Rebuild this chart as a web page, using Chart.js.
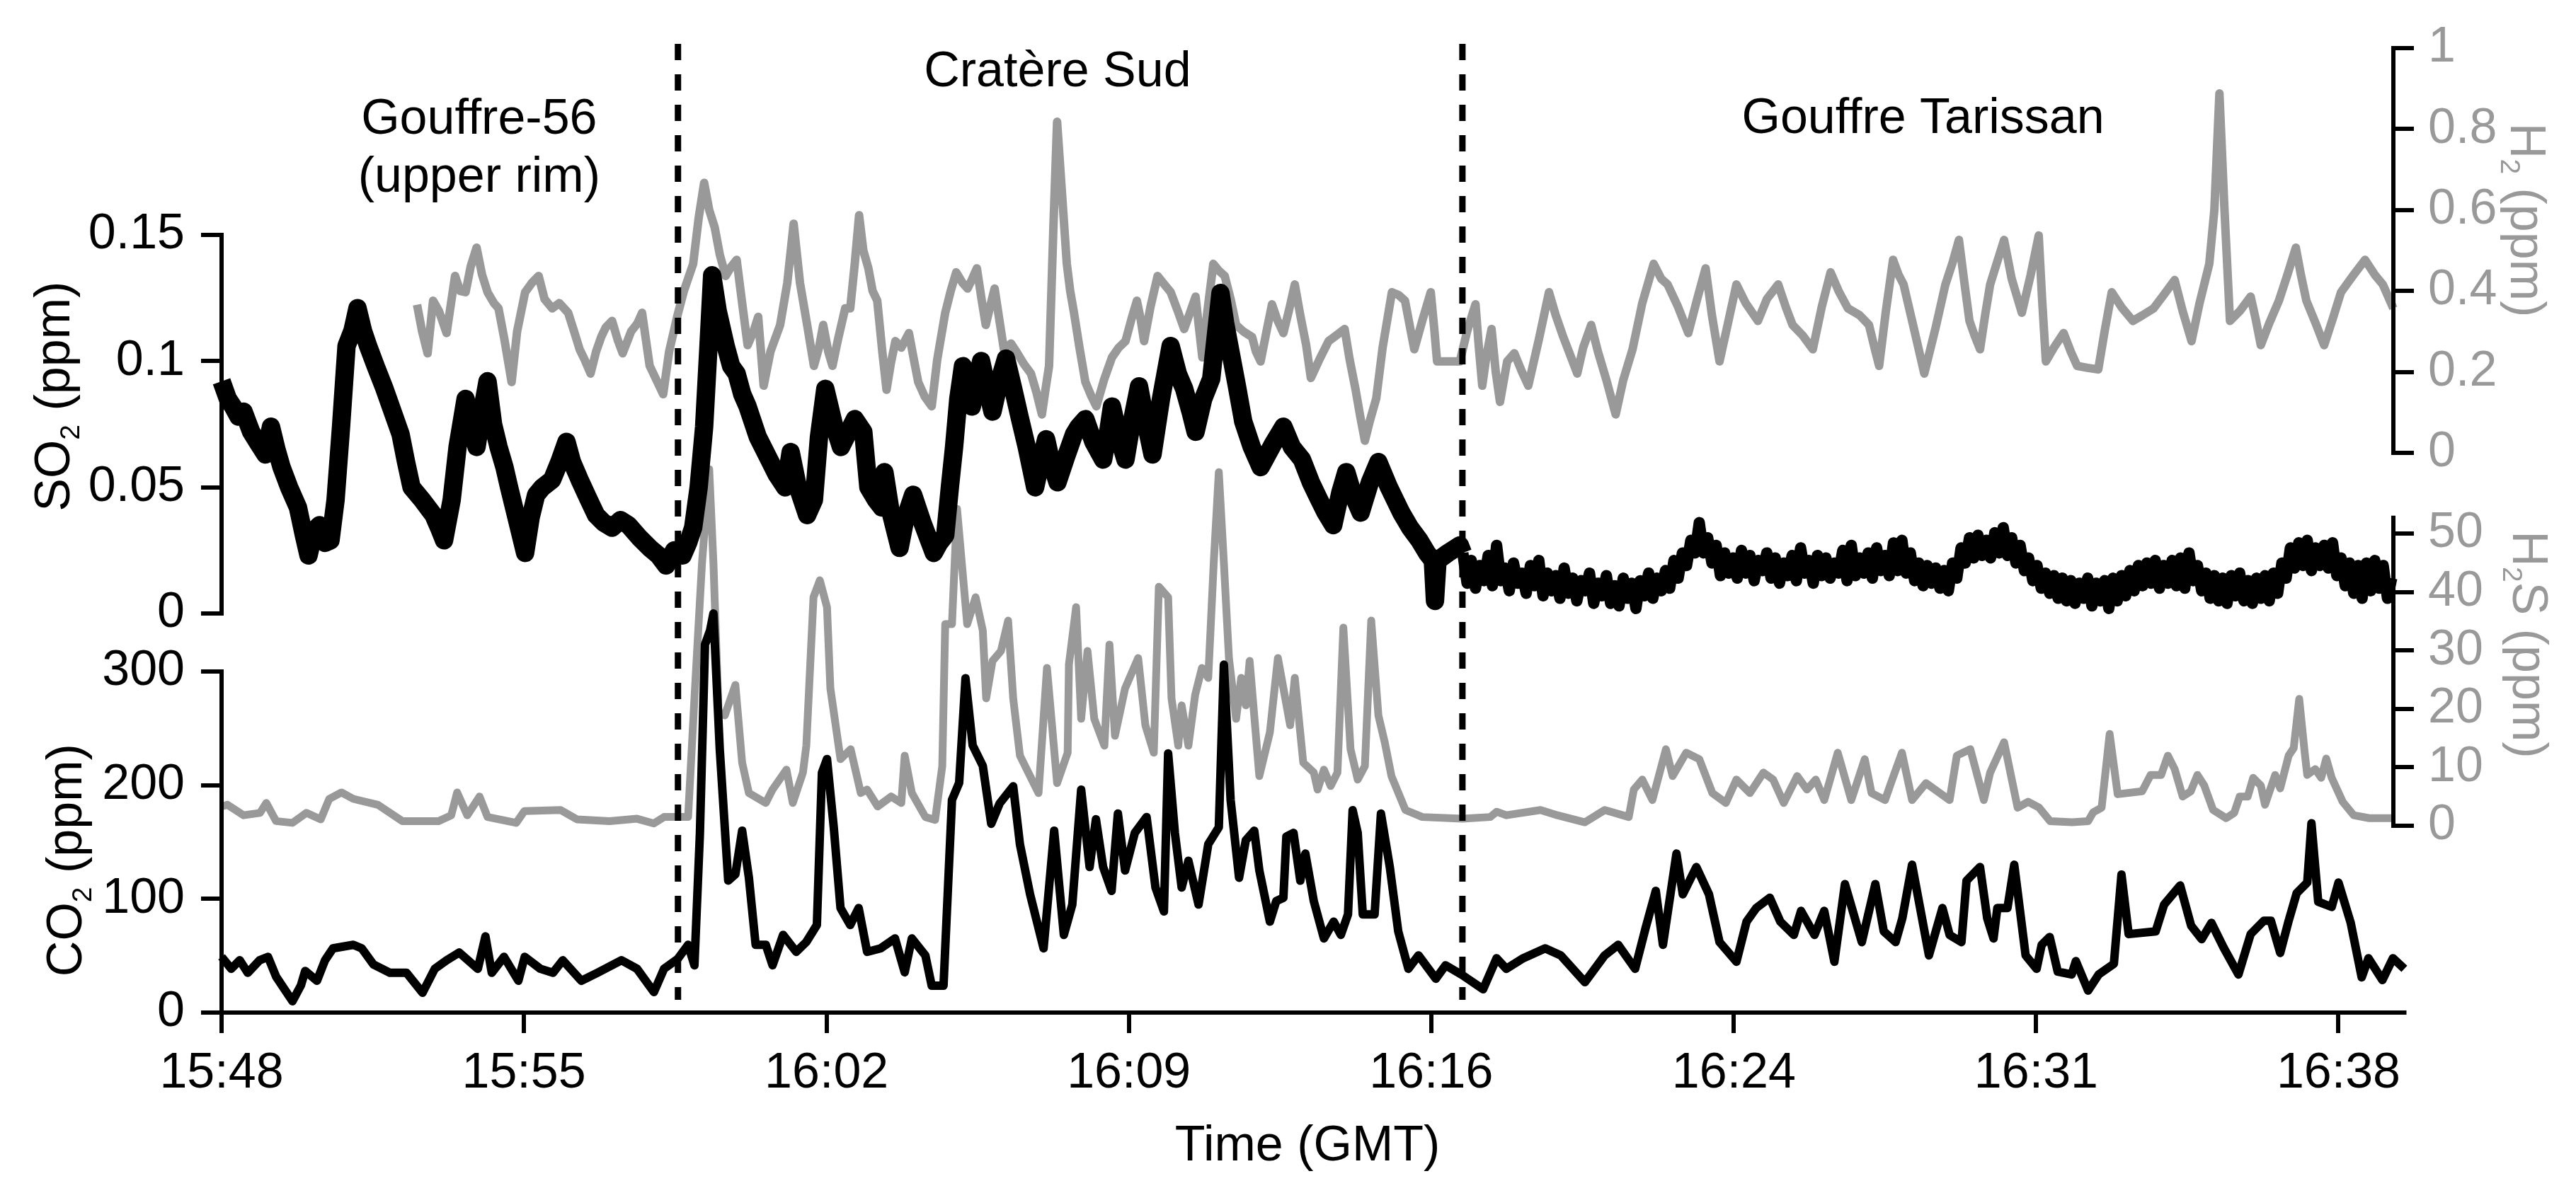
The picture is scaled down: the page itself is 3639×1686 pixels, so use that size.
<!DOCTYPE html>
<html>
<head>
<meta charset="utf-8">
<script src="https://cdn.jsdelivr.net/npm/chart.js@4.4.1/dist/chart.umd.min.js"></script>
<style>
  html, body { margin: 0; padding: 0; background: #fff; }
</style>
</head>
<body>
<canvas id="grafico" width="3639" height="1686"></canvas>
<script>
// Eje de tiempo: minutos desde las 15:48 (GMT)
const etiquetasTiempo = ['15:48', '15:55', '16:02', '16:09', '16:16', '16:24', '16:31', '16:38'];
const minutosTicks = [0, 7.16, 14.33, 21.49, 28.65, 35.82, 42.98, 50.14];

const ticksSO2 = [0, 0.05, 0.1, 0.15];
const ticksCO2 = [0, 100, 200, 300];
const ticksH2 = [0, 0.2, 0.4, 0.6, 0.8, 1];
const ticksH2S = [0, 10, 20, 30, 40, 50];

// Cambios de sitio (líneas discontinuas) y nombres de los sitios
const cambiosDeSitio = [10.81, 29.39];
const sitios = [
    { texto: ['Gouffre-56', '(upper rim)'], minuto: 6.1 },
    { texto: ['Cratère Sud'], minuto: 19.8 },
    { texto: ['Gouffre Tarissan'], minuto: 40.3 }
];

// SO2 (ppm) - negro, arriba
const datosSO2 = [
    [0, 0.092], [0.15, 0.085], [0.27, 0.082], [0.4, 0.078], [0.52, 0.080], [0.7, 0.072], [0.85, 0.068],
    [1.04, 0.063], [1.17, 0.074], [1.3, 0.065], [1.42, 0.058], [1.6, 0.050], [1.81, 0.042], [1.95, 0.031],
    [2.06, 0.023], [2.2, 0.033], [2.32, 0.035], [2.45, 0.028], [2.58, 0.029], [2.7, 0.045], [2.83, 0.074],
    [2.96, 0.106], [3.1, 0.112], [3.22, 0.121], [3.35, 0.112], [3.47, 0.106], [3.65, 0.098], [3.86, 0.089],
    [4.05, 0.080], [4.24, 0.071], [4.37, 0.060], [4.5, 0.050], [4.75, 0.045], [5.02, 0.039], [5.15, 0.034],
    [5.27, 0.029], [5.45, 0.045], [5.59, 0.066], [5.78, 0.085], [5.9, 0.075], [6.04, 0.066], [6.17, 0.080],
    [6.3, 0.092], [6.43, 0.075], [6.56, 0.066], [6.7, 0.058], [6.81, 0.050], [7.0, 0.037], [7.19, 0.024],
    [7.32, 0.038], [7.45, 0.047], [7.6, 0.050], [7.83, 0.053], [8.0, 0.060], [8.17, 0.068], [8.3, 0.060],
    [8.48, 0.053], [8.7, 0.045], [8.87, 0.039], [9.05, 0.036], [9.25, 0.034], [9.45, 0.037], [9.64, 0.035],
    [9.9, 0.030], [10.14, 0.026], [10.35, 0.023], [10.53, 0.019], [10.72, 0.025], [10.92, 0.023], [11.05, 0.028],
    [11.17, 0.034], [11.3, 0.050], [11.43, 0.074], [11.53, 0.105], [11.62, 0.134], [11.75, 0.120], [11.94, 0.106],
    [12.07, 0.098], [12.2, 0.095], [12.33, 0.087], [12.46, 0.082], [12.7, 0.070], [12.97, 0.061], [13.15, 0.055],
    [13.35, 0.050], [13.48, 0.064], [13.65, 0.050], [13.87, 0.039], [14.03, 0.045], [14.15, 0.070], [14.3, 0.089],
    [14.5, 0.075], [14.67, 0.066], [14.85, 0.072], [15.0, 0.077], [15.2, 0.072], [15.32, 0.050], [15.5, 0.045],
    [15.64, 0.042], [15.7, 0.056], [15.85, 0.040], [16.06, 0.026], [16.2, 0.038], [16.38, 0.047], [16.6, 0.036],
    [16.87, 0.024], [17.0, 0.028], [17.14, 0.031], [17.25, 0.050], [17.35, 0.066], [17.45, 0.085], [17.56, 0.098],
    [17.77, 0.082], [17.99, 0.100], [18.12, 0.090], [18.26, 0.080], [18.42, 0.092], [18.58, 0.101], [18.75, 0.089],
    [18.9, 0.078], [19.07, 0.066], [19.17, 0.058], [19.27, 0.050], [19.4, 0.060], [19.53, 0.069], [19.65, 0.060],
    [19.8, 0.052], [20.0, 0.062], [20.19, 0.071], [20.3, 0.074], [20.46, 0.077], [20.65, 0.068], [20.88, 0.061],
    [21.0, 0.072], [21.09, 0.082], [21.25, 0.070], [21.41, 0.061], [21.55, 0.075], [21.73, 0.090], [21.9, 0.075],
    [22.05, 0.063], [22.25, 0.085], [22.48, 0.106], [22.65, 0.095], [22.8, 0.089], [22.95, 0.080], [23.07, 0.072],
    [23.25, 0.085], [23.44, 0.093], [23.55, 0.110], [23.66, 0.127], [23.77, 0.115], [23.87, 0.106], [24.05, 0.090],
    [24.2, 0.076], [24.4, 0.066], [24.61, 0.058], [24.9, 0.067], [25.15, 0.074], [25.35, 0.066], [25.59, 0.061],
    [25.8, 0.052], [26.0, 0.045], [26.15, 0.040], [26.33, 0.035], [26.5, 0.048], [26.64, 0.056], [26.8, 0.047],
    [26.98, 0.040], [27.2, 0.052], [27.4, 0.060], [27.65, 0.050], [27.94, 0.040], [28.15, 0.034], [28.37, 0.029],
    [28.55, 0.024], [28.69, 0.021], [28.74, 0.005], [28.8, 0.021], [29.05, 0.024], [29.33, 0.027],
    [29.4, 0.024], [29.5, 0.012], [29.6, 0.021], [29.7, 0.010], [29.8, 0.019], [29.9, 0.013], [30.0, 0.023],
    [30.1, 0.011], [30.2, 0.027], [30.3, 0.013], [30.4, 0.018], [30.5, 0.009], [30.6, 0.020], [30.7, 0.012],
    [30.8, 0.016], [30.9, 0.008], [31.0, 0.019], [31.1, 0.011], [31.2, 0.021], [31.3, 0.007], [31.4, 0.016],
    [31.5, 0.009], [31.6, 0.015], [31.7, 0.006], [31.8, 0.018], [31.9, 0.008], [32.0, 0.014], [32.1, 0.005],
    [32.2, 0.013], [32.3, 0.009], [32.4, 0.016], [32.5, 0.004], [32.6, 0.012], [32.7, 0.007], [32.8, 0.015],
    [32.9, 0.004], [33.0, 0.011], [33.1, 0.003], [33.2, 0.014], [33.3, 0.006], [33.4, 0.012], [33.5, 0.002],
    [33.6, 0.013], [33.7, 0.007], [33.8, 0.016], [33.9, 0.006], [34.0, 0.014], [34.1, 0.009], [34.2, 0.017],
    [34.3, 0.010], [34.4, 0.021], [34.5, 0.014], [34.6, 0.024], [34.7, 0.019], [34.8, 0.029], [34.9, 0.024],
    [35.0, 0.036], [35.1, 0.024], [35.2, 0.030], [35.3, 0.020], [35.4, 0.027], [35.5, 0.015], [35.6, 0.024],
    [35.7, 0.016], [35.8, 0.022], [35.9, 0.014], [36.0, 0.025], [36.1, 0.016], [36.2, 0.023], [36.3, 0.013],
    [36.4, 0.021], [36.5, 0.017], [36.6, 0.024], [36.7, 0.014], [36.8, 0.022], [36.9, 0.012], [37.0, 0.020],
    [37.1, 0.015], [37.2, 0.023], [37.3, 0.013], [37.4, 0.026], [37.5, 0.016], [37.6, 0.021], [37.7, 0.012],
    [37.8, 0.023], [37.9, 0.015], [38.0, 0.022], [38.1, 0.014], [38.2, 0.020], [38.3, 0.016], [38.4, 0.025],
    [38.5, 0.013], [38.6, 0.027], [38.7, 0.015], [38.8, 0.022], [38.9, 0.016], [39.0, 0.024], [39.1, 0.014],
    [39.2, 0.026], [39.3, 0.017], [39.4, 0.023], [39.5, 0.015], [39.6, 0.028], [39.7, 0.017], [39.8, 0.029],
    [39.9, 0.016], [40.0, 0.024], [40.1, 0.013], [40.2, 0.020], [40.3, 0.011], [40.4, 0.019], [40.5, 0.012],
    [40.6, 0.018], [40.7, 0.010], [40.8, 0.017], [40.9, 0.009], [41.0, 0.020], [41.1, 0.014], [41.2, 0.026],
    [41.3, 0.020], [41.4, 0.030], [41.5, 0.022], [41.6, 0.031], [41.7, 0.023], [41.8, 0.029], [41.9, 0.022],
    [42.0, 0.032], [42.1, 0.024], [42.2, 0.034], [42.3, 0.023], [42.4, 0.030], [42.5, 0.020], [42.6, 0.027],
    [42.7, 0.017], [42.8, 0.022], [42.9, 0.013], [43.0, 0.019], [43.1, 0.010], [43.2, 0.016], [43.3, 0.008],
    [43.4, 0.015], [43.5, 0.006], [43.6, 0.014], [43.7, 0.005], [43.8, 0.013], [43.9, 0.004], [44.0, 0.012],
    [44.1, 0.006], [44.2, 0.014], [44.3, 0.003], [44.4, 0.012], [44.5, 0.005], [44.6, 0.013], [44.7, 0.002],
    [44.8, 0.014], [44.9, 0.005], [45.0, 0.015], [45.1, 0.007], [45.2, 0.017], [45.3, 0.009], [45.4, 0.019],
    [45.5, 0.011], [45.6, 0.020], [45.7, 0.012], [45.8, 0.021], [45.9, 0.010], [46.0, 0.019], [46.1, 0.012],
    [46.2, 0.021], [46.3, 0.011], [46.4, 0.022], [46.5, 0.010], [46.6, 0.024], [46.7, 0.013], [46.8, 0.019],
    [46.9, 0.009], [47.0, 0.016], [47.1, 0.006], [47.2, 0.015], [47.3, 0.005], [47.4, 0.014], [47.5, 0.004],
    [47.6, 0.015], [47.7, 0.007], [47.8, 0.016], [47.9, 0.005], [48.0, 0.013], [48.1, 0.004], [48.2, 0.014],
    [48.3, 0.006], [48.4, 0.015], [48.5, 0.005], [48.6, 0.016], [48.7, 0.008], [48.8, 0.020], [48.9, 0.014],
    [49.0, 0.026], [49.1, 0.018], [49.2, 0.028], [49.3, 0.019], [49.4, 0.029], [49.5, 0.017], [49.6, 0.026],
    [49.7, 0.019], [49.8, 0.027], [49.9, 0.018], [50.0, 0.028], [50.1, 0.015], [50.2, 0.022], [50.3, 0.011],
    [50.4, 0.020], [50.5, 0.008], [50.6, 0.019], [50.7, 0.006], [50.8, 0.020], [50.9, 0.009], [51.0, 0.021],
    [51.1, 0.010], [51.2, 0.019], [51.3, 0.006], [51.4, 0.014]
];

// CO2 (ppm) - negro, abajo
const datosCO2 = [
    [0, 49], [0.23, 38.5], [0.43, 46], [0.62, 35], [0.9, 46], [1.1, 49], [1.29, 31.7], [1.5, 20], [1.68, 10],
    [1.88, 24], [1.98, 36.6], [2.26, 28], [2.45, 46], [2.64, 56.5], [3.12, 59.6], [3.32, 56.5], [3.6, 42.2],
    [3.99, 35], [4.38, 35], [4.76, 17.4], [5.05, 38.5], [5.33, 46], [5.63, 52.8], [6.07, 38.5], [6.25, 67],
    [6.4, 35], [6.69, 49], [7.03, 28], [7.18, 49], [7.55, 38.5], [7.85, 35], [8.08, 46], [8.52, 28], [8.9, 35],
    [9.47, 46], [9.84, 38.5], [10.24, 18], [10.48, 38.5], [10.8, 47], [11.05, 59.6], [11.2, 41.6], [11.33, 157.8],
    [11.45, 323.6], [11.57, 336], [11.65, 351], [11.8, 231.7], [12.0, 116], [12.17, 121.7], [12.33, 160],
    [12.49, 118.6], [12.65, 59.6], [12.89, 59.6], [13.05, 41.6], [13.3, 68.3], [13.61, 53.4], [13.85, 62.1],
    [14.1, 77], [14.22, 211], [14.34, 223], [14.5, 163], [14.66, 92], [14.89, 77], [15.09, 92], [15.29, 53.4],
    [15.61, 56.5], [15.95, 65.2], [16.18, 35.4], [16.35, 65.2], [16.67, 50.3], [16.82, 23.6], [17.1, 23.6],
    [17.3, 187], [17.47, 202], [17.62, 294], [17.79, 235], [18.03, 217], [18.23, 166], [18.43, 184], [18.75, 199],
    [18.91, 148], [19.15, 104], [19.47, 56.5], [19.72, 160], [19.95, 68.3], [20.15, 95], [20.36, 196], [20.56, 128],
    [20.71, 170], [20.88, 128], [21.08, 107], [21.23, 175], [21.4, 125], [21.63, 158], [21.91, 172], [22.12, 110],
    [22.32, 89], [22.42, 228], [22.58, 158], [22.74, 110], [22.9, 133.5], [23.14, 95], [23.37, 148], [23.62, 163],
    [23.74, 306], [23.9, 187], [24.1, 118.6], [24.26, 151.6], [24.46, 160], [24.58, 125], [24.83, 80], [24.98, 98],
    [25.15, 101], [25.22, 154.7], [25.39, 158], [25.55, 116], [25.67, 139.8], [25.87, 98], [26.11, 65.2], [26.34, 80],
    [26.51, 68.3], [26.68, 86.3], [26.79, 178], [26.91, 158], [27.03, 86.3], [27.31, 86.3], [27.46, 175], [27.67, 128],
    [27.87, 71.4], [28.11, 38.5], [28.35, 50.3], [28.76, 29.8], [28.99, 41.6], [29.39, 32.9], [29.88, 20.5],
    [30.2, 47.8], [30.43, 38.5], [30.83, 47.8], [31.35, 56.5], [31.72, 50.3], [32.29, 26.7], [32.76, 50.3],
    [33.08, 59.6], [33.48, 38.5], [33.73, 74.5], [33.97, 107], [34.14, 59.6], [34.46, 139.8], [34.61, 104],
    [34.93, 128], [35.23, 104], [35.48, 62], [35.88, 44.7], [36.12, 80], [36.35, 92], [36.67, 101], [36.92, 80],
    [37.24, 68.3], [37.41, 89.4], [37.73, 68.3], [37.96, 89.4], [38.2, 44.7], [38.45, 113], [38.85, 62], [39.17, 113],
    [39.37, 71.4], [39.65, 62], [39.81, 83], [40.04, 130], [40.44, 50.3], [40.76, 92], [40.93, 68.3], [41.21, 62],
    [41.33, 116], [41.65, 128], [41.82, 83], [41.97, 65.2], [42.06, 92], [42.3, 92], [42.46, 130], [42.73, 50.3],
    [42.99, 38.5], [43.11, 59.6], [43.3, 66.5], [43.49, 36], [43.82, 33.5], [43.92, 45.3], [44.21, 19.3],
    [44.46, 33.5], [44.82, 42.9], [45.0, 121.4], [45.17, 69], [45.81, 71.4], [46.01, 95], [46.39, 111.8],
    [46.65, 76.4], [46.9, 64.6], [47.13, 78.9], [47.42, 57.1], [47.77, 33.5], [48.06, 69], [48.37, 80.7],
    [48.54, 80.7], [48.76, 52.5], [48.96, 80.7], [49.15, 105], [49.4, 114.3], [49.5, 166.5], [49.66, 97.5],
    [49.98, 92.9], [50.14, 114.3], [50.43, 78.9], [50.69, 31], [50.85, 47.8], [51.18, 28.6], [51.43, 47.8], [51.7, 38.5]
];

// H2 (ppm) - gris, arriba
const datosH2 = [
    [4.63, 0.366], [4.75, 0.30], [4.88, 0.246], [5.01, 0.376], [5.15, 0.35], [5.33, 0.296], [5.53, 0.437],
    [5.65, 0.40], [5.78, 0.397], [5.9, 0.46], [6.04, 0.507], [6.17, 0.44], [6.3, 0.397], [6.45, 0.37], [6.56, 0.357],
    [6.7, 0.28], [6.87, 0.175], [7.0, 0.30], [7.19, 0.397], [7.35, 0.42], [7.51, 0.437], [7.65, 0.38], [7.83, 0.357],
    [8.0, 0.37], [8.21, 0.346], [8.35, 0.30], [8.48, 0.256], [8.6, 0.23], [8.74, 0.196], [8.87, 0.25], [8.99, 0.286],
    [9.1, 0.31], [9.25, 0.326], [9.38, 0.28], [9.5, 0.246], [9.7, 0.30], [9.85, 0.32], [9.96, 0.346], [10.05, 0.28],
    [10.14, 0.215], [10.3, 0.18], [10.46, 0.145], [10.6, 0.25], [10.79, 0.336], [10.95, 0.40], [11.17, 0.467],
    [11.3, 0.58], [11.43, 0.667], [11.55, 0.60], [11.68, 0.557], [11.8, 0.49], [11.94, 0.437], [12.07, 0.46],
    [12.2, 0.477], [12.33, 0.37], [12.46, 0.266], [12.6, 0.30], [12.71, 0.336], [12.84, 0.166], [13.0, 0.25],
    [13.23, 0.316], [13.4, 0.42], [13.55, 0.566], [13.7, 0.42], [13.87, 0.316], [14.03, 0.215], [14.15, 0.26],
    [14.25, 0.316], [14.37, 0.25], [14.47, 0.215], [14.6, 0.28], [14.77, 0.357], [14.89, 0.357], [15.0, 0.47],
    [15.1, 0.587], [15.2, 0.50], [15.32, 0.456], [15.42, 0.40], [15.53, 0.376], [15.65, 0.25], [15.75, 0.156],
    [15.85, 0.22], [15.96, 0.276], [16.1, 0.26], [16.28, 0.296], [16.38, 0.24], [16.5, 0.175], [16.65, 0.14],
    [16.82, 0.115], [16.95, 0.23], [17.14, 0.346], [17.27, 0.40], [17.4, 0.446], [17.55, 0.42], [17.67, 0.406],
    [17.78, 0.43], [17.89, 0.456], [18.0, 0.38], [18.1, 0.316], [18.2, 0.36], [18.31, 0.406], [18.42, 0.33],
    [18.53, 0.256], [18.7, 0.27], [18.85, 0.246], [19.0, 0.22], [19.17, 0.196], [19.3, 0.15], [19.43, 0.095],
    [19.52, 0.16], [19.6, 0.215], [19.7, 0.55], [19.79, 0.818], [19.9, 0.65], [20.02, 0.467], [20.1, 0.40],
    [20.19, 0.346], [20.32, 0.26], [20.46, 0.175], [20.6, 0.14], [20.72, 0.115], [20.9, 0.18], [21.09, 0.236],
    [21.25, 0.26], [21.41, 0.276], [21.55, 0.33], [21.68, 0.376], [21.77, 0.33], [21.85, 0.276], [22.0, 0.36],
    [22.17, 0.437], [22.3, 0.42], [22.48, 0.397], [22.65, 0.35], [22.8, 0.306], [22.95, 0.35], [23.07, 0.386],
    [23.15, 0.31], [23.23, 0.236], [23.35, 0.35], [23.49, 0.467], [23.62, 0.45], [23.76, 0.437], [23.9, 0.38],
    [24.03, 0.316], [24.2, 0.30], [24.41, 0.286], [24.5, 0.25], [24.61, 0.226], [24.75, 0.30], [24.88, 0.367],
    [25.0, 0.33], [25.15, 0.296], [25.3, 0.36], [25.42, 0.416], [25.55, 0.34], [25.69, 0.266], [25.8, 0.185],
    [26.0, 0.23], [26.22, 0.276], [26.4, 0.29], [26.6, 0.306], [26.72, 0.23], [26.86, 0.156], [26.97, 0.09],
    [27.08, 0.03], [27.2, 0.08], [27.35, 0.135], [27.5, 0.26], [27.72, 0.397], [27.88, 0.39], [28.03, 0.376],
    [28.15, 0.31], [28.25, 0.256], [28.45, 0.33], [28.64, 0.397], [28.72, 0.31], [28.79, 0.226], [29.33, 0.226],
    [29.5, 0.30], [29.7, 0.367], [29.78, 0.26], [29.86, 0.166], [29.96, 0.24], [30.08, 0.306], [30.18, 0.20],
    [30.28, 0.126], [30.45, 0.226], [30.62, 0.246], [30.8, 0.20], [30.95, 0.166], [31.2, 0.28], [31.44, 0.397],
    [31.6, 0.34], [31.78, 0.286], [31.95, 0.24], [32.11, 0.196], [32.25, 0.26], [32.44, 0.316], [32.6, 0.25],
    [32.8, 0.18], [33.02, 0.095], [33.2, 0.18], [33.42, 0.256], [33.65, 0.37], [33.92, 0.467], [34.1, 0.43],
    [34.25, 0.416], [34.5, 0.36], [34.74, 0.296], [34.95, 0.38], [35.15, 0.456], [35.3, 0.34], [35.48, 0.226],
    [35.7, 0.33], [35.88, 0.416], [36.1, 0.37], [36.39, 0.326], [36.6, 0.38], [36.87, 0.416], [37.05, 0.36],
    [37.21, 0.316], [37.45, 0.29], [37.69, 0.256], [37.9, 0.36], [38.11, 0.446], [38.3, 0.40], [38.52, 0.357],
    [38.8, 0.34], [39.02, 0.316], [39.15, 0.26], [39.26, 0.215], [39.42, 0.35], [39.59, 0.477], [39.72, 0.44],
    [39.84, 0.416], [40.1, 0.30], [40.33, 0.196], [40.6, 0.31], [40.83, 0.416], [41.0, 0.47], [41.15, 0.526],
    [41.28, 0.42], [41.4, 0.326], [41.52, 0.29], [41.65, 0.256], [41.77, 0.34], [41.89, 0.416], [42.05, 0.47],
    [42.22, 0.526], [42.4, 0.43], [42.64, 0.346], [42.85, 0.44], [43.04, 0.537], [43.12, 0.38], [43.21, 0.226],
    [43.4, 0.26], [43.63, 0.296], [43.8, 0.25], [43.95, 0.215], [44.2, 0.21], [44.45, 0.206], [44.6, 0.30],
    [44.77, 0.397], [45.0, 0.36], [45.27, 0.326], [45.5, 0.34], [45.76, 0.357], [46.0, 0.39], [46.26, 0.427],
    [46.45, 0.35], [46.66, 0.276], [46.85, 0.37], [47.08, 0.467], [47.2, 0.60], [47.32, 0.888], [47.44, 0.60],
    [47.57, 0.326], [47.8, 0.35], [48.06, 0.386], [48.18, 0.33], [48.3, 0.266], [48.5, 0.32], [48.73, 0.376],
    [48.93, 0.44], [49.13, 0.507], [49.25, 0.44], [49.38, 0.376], [49.6, 0.32], [49.8, 0.266], [50.0, 0.33],
    [50.2, 0.397], [50.5, 0.44], [50.77, 0.477], [51.0, 0.44], [51.19, 0.416], [51.44, 0.357]
];

// H2S (ppm) - gris, abajo
const datosH2S = [
    [0, 3.3], [0.14, 3.6], [0.52, 1.8], [0.91, 2.2], [1.06, 3.9], [1.29, 0.8], [1.68, 0.5], [2.01, 2.2], [2.35, 1.1],
    [2.55, 4.6], [2.84, 5.7], [3.12, 4.6], [3.7, 3.6], [4.28, 0.8], [5.14, 0.8], [5.44, 1.8], [5.58, 5.7], [5.82, 1.8],
    [6.11, 5.0], [6.3, 1.5], [6.98, 0.5], [7.17, 2.5], [8.03, 2.7], [8.42, 1.1], [9.19, 0.8], [9.84, 1.2], [10.24, 0.4],
    [10.48, 1.5], [11.05, 1.5], [11.2, 21.8], [11.38, 45], [11.55, 61], [11.65, 45], [11.77, 19.5], [11.92, 18.9],
    [12.17, 24.1], [12.33, 10.8], [12.49, 5.6], [12.89, 3.9], [13.05, 6.2], [13.38, 9.6], [13.53, 3.9], [13.77, 9.1],
    [13.85, 13.7], [14.02, 39.1], [14.17, 42.0], [14.34, 37.4], [14.42, 23.5], [14.66, 11.4], [14.9, 13.1],
    [15.14, 5.6], [15.29, 6.2], [15.54, 3.3], [15.86, 5.0], [16.1, 3.9], [16.18, 12.0], [16.35, 5.6], [16.67, 1.5],
    [16.9, 1.0], [17.07, 10.2], [17.14, 34.5], [17.3, 34.5], [17.42, 54.2], [17.59, 40.3], [17.66, 34.5],
    [17.86, 39.1], [18.03, 33.4], [18.11, 21.8], [18.26, 28.2], [18.46, 29.9], [18.63, 35.1], [18.75, 21.8],
    [18.91, 12.0], [19.15, 8.5], [19.35, 5.6], [19.55, 27.0], [19.79, 7.3], [20.04, 12.5], [20.07, 27.6],
    [20.24, 37.4], [20.36, 18.3], [20.51, 29.9], [20.67, 18.3], [20.91, 13.7], [21.03, 31.0], [21.16, 15.4],
    [21.4, 23.5], [21.71, 28.7], [21.88, 17.2], [22.08, 12.5], [22.2, 40.9], [22.42, 39.1], [22.5, 21.8],
    [22.66, 13.7], [22.74, 20.6], [22.9, 13.7], [23.06, 22.4], [23.22, 27.0], [23.37, 25.3], [23.5, 45],
    [23.62, 60.5], [23.74, 45], [23.86, 28.7], [24.03, 18.3], [24.15, 25.3], [24.26, 20.6], [24.35, 28.2],
    [24.58, 8.5], [24.83, 16.0], [25.02, 28.7], [25.31, 17.2], [25.42, 25.3], [25.62, 10.8], [25.87, 9.1],
    [25.96, 6.2], [26.11, 9.6], [26.27, 6.8], [26.43, 9.1], [26.57, 33.9], [26.74, 13.1], [26.91, 7.9],
    [27.08, 10.2], [27.23, 35.1], [27.4, 18.9], [27.55, 14.3], [27.71, 8.5], [28.04, 2.7], [28.44, 1.5],
    [29.39, 1.2], [30.05, 1.5], [30.2, 2.4], [30.43, 1.8], [31.24, 2.7], [31.64, 1.8], [32.29, 0.6], [32.76, 2.7],
    [33.33, 1.5], [33.45, 6.2], [33.65, 7.9], [33.89, 4.4], [34.21, 13.1], [34.37, 8.5], [34.69, 12.5], [35.0, 11.4],
    [35.31, 5.6], [35.63, 3.9], [35.88, 7.9], [36.2, 5.6], [36.52, 9.1], [36.75, 7.9], [37.0, 3.9], [37.32, 8.5],
    [37.55, 6.2], [37.76, 7.9], [37.96, 4.4], [38.28, 12.5], [38.6, 4.4], [38.92, 11.4], [39.08, 5.6], [39.4, 4.4],
    [39.57, 7.9], [39.8, 12.5], [40.04, 4.4], [40.37, 7.3], [40.93, 4.4], [41.1, 12.0], [41.42, 13.1], [41.74, 4.4],
    [41.89, 9.1], [42.22, 14.3], [42.54, 3.1], [42.79, 4.1], [43.05, 3.1], [43.31, 0.8], [43.83, 0.6], [44.21, 0.8],
    [44.33, 2.3], [44.53, 3.1], [44.72, 15.7], [44.91, 5.4], [45.49, 5.9], [45.69, 8.7], [45.94, 8.7], [46.1, 12.0],
    [46.26, 9.7], [46.45, 5.0], [46.64, 5.9], [46.8, 8.7], [46.96, 6.9], [47.17, 2.7], [47.48, 1.3], [47.67, 2.2],
    [47.8, 5.0], [47.99, 5.0], [48.12, 8.2], [48.3, 6.9], [48.4, 3.6], [48.64, 8.7], [48.76, 6.4], [48.96, 12.0],
    [49.08, 13.3], [49.21, 21.7], [49.34, 12.5], [49.4, 8.7], [49.59, 9.7], [49.73, 8.2], [49.85, 11.5],
    [49.98, 8.2], [50.24, 4.1], [50.5, 1.8], [50.87, 1.3], [51.42, 1.3]
];

// Estilo
const FUENTE = '"Liberation Sans", Arial, sans-serif';
const NEGRO = '#000000';
const GRIS = '#999999';
const TAM = 70;

function aPuntos(serie) {
    return serie.map(d => ({ x: d[0], y: d[1] }));
}

// Eje Y apilado (los cuatro ejes comparten el mismo área de dibujo)
function escalaY(posicion, valores, min, max, colorTexto, pesoPila, orden, padding, ancho) {
    return {
        type: 'linear',
        position: posicion,
        min: min,
        max: max,
        stack: 'pila',
        stackWeight: pesoPila,
        weight: orden,
        afterBuildTicks: s => { s.ticks = valores.map(v => ({ value: v })); },
        afterFit: s => { s.width = ancho; },
        ticks: {
            color: colorTexto,
            font: { family: FUENTE, size: TAM },
            padding: padding,
            autoSkip: false,
            callback: v => String(v)
        },
        grid: { drawOnChartArea: false, drawTicks: true, tickLength: 29, lineWidth: 6, color: NEGRO },
        border: { display: false }
    };
}

// Títulos de los ejes Y (con subíndice) y posición
const titulosY = [
    { eje: 'ySO2', partes: [['SO'], ['2', true], [' (ppm)']], centro: 0.086, x: 73, giro: -Math.PI / 2, color: NEGRO },
    { eje: 'yCO2', partes: [['CO'], ['2', true], [' (ppm)']], centro: 134, x: 90, giro: -Math.PI / 2, color: NEGRO },
    { eje: 'yH2', partes: [['H'], ['2', true], [' (ppm)']], centro: 0.575, x: 3572, giro: Math.PI / 2, color: GRIS },
    { eje: 'yH2S', partes: [['H'], ['2', true], ['S (ppm)']], centro: 31, x: 3575, giro: Math.PI / 2, color: GRIS }
];
const lineasBaseSitios = [[189, 271], [122], [188]];

function textoRico(ctx, partes, x, y, giro, color) {
    ctx.save();
    ctx.translate(x, y);
    ctx.rotate(giro);
    ctx.fillStyle = color;
    ctx.textAlign = 'left';
    ctx.textBaseline = 'alphabetic';
    const grande = `${TAM}px ${FUENTE}`;
    const chico = `${Math.round(TAM * 0.55)}px ${FUENTE}`;
    let total = 0;
    partes.forEach(p => { ctx.font = p[1] ? chico : grande; total += ctx.measureText(p[0]).width; });
    let cx = -total / 2;
    const base = TAM * 0.36;
    partes.forEach(p => {
        ctx.font = p[1] ? chico : grande;
        ctx.fillText(p[0], cx, base + (p[1] ? TAM * 0.2 : 0));
        cx += ctx.measureText(p[0]).width;
    });
    ctx.restore();
}

const decoracion = {
    id: 'decoracion',
    afterDatasetsDraw(chart) {
        const { ctx, chartArea, scales } = chart;
        const x = scales.x;
        ctx.save();

        // Líneas discontinuas de cambio de sitio
        ctx.strokeStyle = NEGRO;
        ctx.lineWidth = 9;
        ctx.setLineDash([23, 20]);
        cambiosDeSitio.forEach(m => {
            const px = x.getPixelForValue(m);
            ctx.beginPath();
            ctx.moveTo(px, 62);
            ctx.lineTo(px, 1413);
            ctx.stroke();
        });
        ctx.setLineDash([]);

        // Líneas de los ejes (sólo sobre su rango)
        ctx.lineWidth = 6;
        ctx.lineCap = 'square';
        const linea = (x1, y1, x2, y2) => { ctx.beginPath(); ctx.moveTo(x1, y1); ctx.lineTo(x2, y2); ctx.stroke(); };
        const izq = chartArea.left, der = chartArea.right;
        linea(izq, scales.ySO2.getPixelForValue(0), izq, scales.ySO2.getPixelForValue(0.15));
        linea(izq, scales.yCO2.getPixelForValue(0), izq, scales.yCO2.getPixelForValue(300));
        linea(der, scales.yH2.getPixelForValue(0), der, scales.yH2.getPixelForValue(1));
        linea(der, scales.yH2S.getPixelForValue(0), der, scales.yH2S.getPixelForValue(52.7));
        linea(izq, chartArea.bottom, x.getPixelForValue(51.7), chartArea.bottom);

        // Títulos de los ejes Y
        titulosY.forEach(t => {
            textoRico(ctx, t.partes, t.x, scales[t.eje].getPixelForValue(t.centro), t.giro, t.color);
        });

        // Nombres de los sitios
        ctx.fillStyle = NEGRO;
        ctx.font = `${TAM}px ${FUENTE}`;
        ctx.textAlign = 'center';
        ctx.textBaseline = 'alphabetic';
        sitios.forEach((s, i) => {
            const px = x.getPixelForValue(s.minuto);
            s.texto.forEach((t, j) => ctx.fillText(t, px, lineasBaseSitios[i][j]));
        });
        ctx.restore();
    }
};

try {
    new Chart(document.getElementById('grafico').getContext('2d'), {
        type: 'line',
        data: {
            datasets: [
                {
                    label: 'SO2', data: aPuntos(datosSO2), yAxisID: 'ySO2', borderColor: NEGRO, borderWidth: 16,
                    segment: { borderWidth: c => (c.p0.parsed.x < 29.35 ? 26 : 16) },
                    pointRadius: 0, tension: 0, clip: false, borderJoinStyle: 'round'
                },
                {
                    label: 'CO2', data: aPuntos(datosCO2), yAxisID: 'yCO2', borderColor: NEGRO, borderWidth: 12,
                    pointRadius: 0, tension: 0, clip: false, borderJoinStyle: 'round'
                },
                {
                    label: 'H2S', data: aPuntos(datosH2S), yAxisID: 'yH2S', borderColor: GRIS, borderWidth: 11,
                    pointRadius: 0, tension: 0, clip: false, borderJoinStyle: 'round'
                },
                {
                    label: 'H2', data: aPuntos(datosH2), yAxisID: 'yH2', borderColor: GRIS, borderWidth: 12,
                    pointRadius: 0, tension: 0, clip: false, borderJoinStyle: 'round'
                }
            ]
        },
        options: {
            responsive: false,
            animation: false,
            events: [],
            layout: { padding: { top: 68, left: 0, right: 0, bottom: 0 } },
            plugins: { legend: { display: false }, tooltip: { enabled: false } },
            scales: {
                x: {
                    type: 'linear',
                    position: 'bottom',
                    min: 0,
                    max: 51.44,
                    afterBuildTicks: s => { s.ticks = minutosTicks.map(v => ({ value: v })); },
                    afterFit: s => { s.height = 255; },
                    ticks: {
                        color: NEGRO,
                        font: { family: FUENTE, size: TAM },
                        padding: 16,
                        autoSkip: false,
                        maxRotation: 0,
                        callback: (v, i) => etiquetasTiempo[i]
                    },
                    grid: { drawOnChartArea: false, drawTicks: true, tickLength: 29, lineWidth: 6, color: NEGRO },
                    border: { display: false },
                    title: {
                        display: true,
                        text: 'Time (GMT)',
                        color: NEGRO,
                        font: { family: FUENTE, size: TAM },
                        padding: { top: 0, bottom: 23 }
                    }
                },
                ySO2: escalaY('left', ticksSO2, -0.011495, 0.22402, NEGRO, 840, 1, 23, 313),
                yCO2: escalaY('left', ticksCO2, 0, 325.5, NEGRO, 523, 0, 23, 313),
                yH2: escalaY('right', ticksH2, -0.08741, 1, GRIS, 622, 0, 20, 258),
                yH2S: escalaY('right', ticksH2S, -31.96, 57.75, GRIS, 741, 1, 20, 258)
            }
        },
        plugins: [decoracion]
    });
} catch (error) {
    console.error('Error al dibujar el gráfico:', error);
}
</script>
</body>
</html>
